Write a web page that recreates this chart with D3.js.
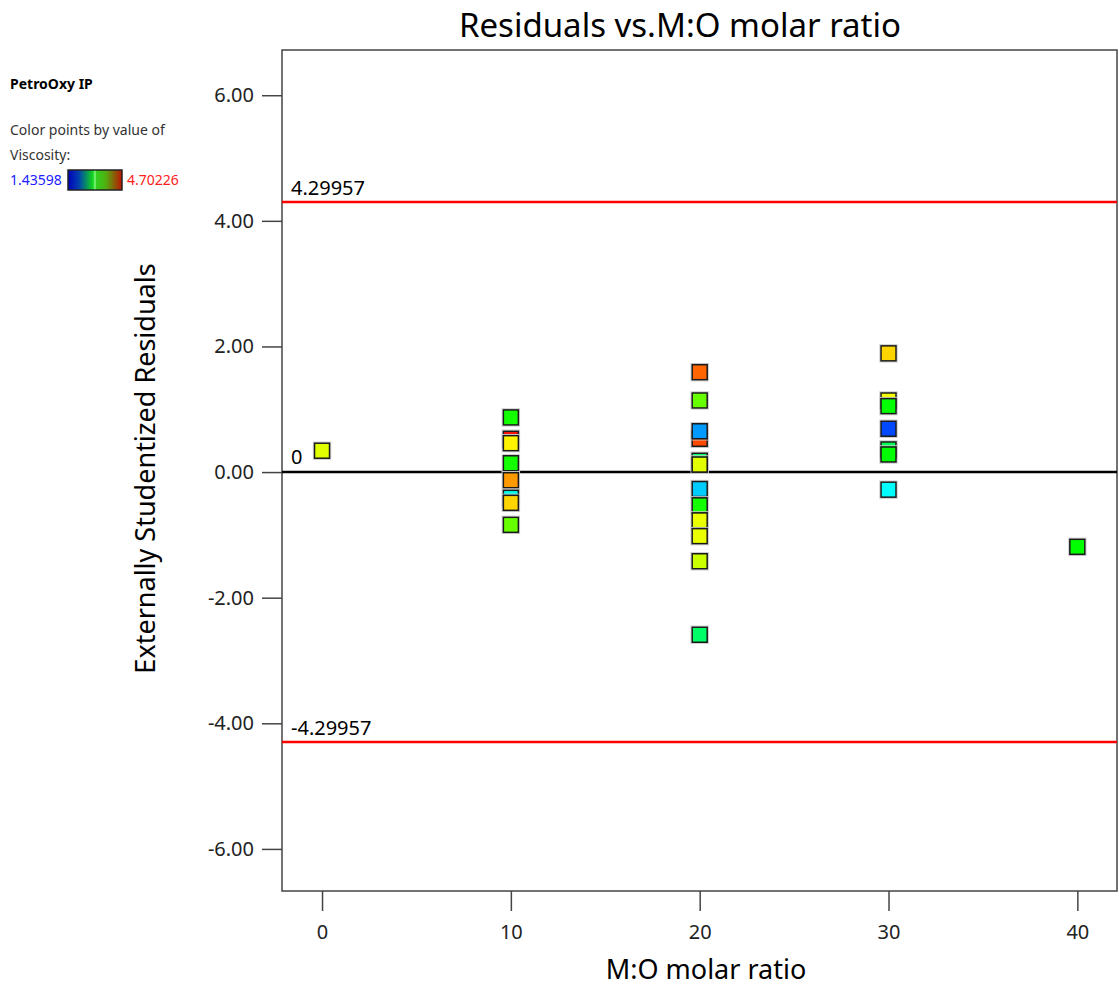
<!DOCTYPE html>
<html>
<head>
<meta charset="utf-8">
<script src="https://cdn.jsdelivr.net/npm/d3@7"></script>
<style>
  body { margin: 0; background: #fff; }
  svg { display: block; font-family: "Noto Sans", "Open Sans", sans-serif; }
</style>
</head>
<body>
<svg id="chart" width="1119" height="987"></svg>
<script>
//  data (drawing order = stacking order)
const ratio     = [0,    10,   10,   10,   10,   10,    10,    10,    10,    20,   20,   20,   20,   20,   20,   20,    20,    20,    20,    20,    20,    30,   30,   30,   30,   30,   30,   30,    40];
const residual  = [0.34, 0.87, 0.53, 0.46, 0.14, -0.13, -0.41, -0.49, -0.84, 1.59, 1.14, 0.53, 0.65, 0.18, 0.12, -0.27, -0.53, -0.77, -1.02, -1.42, -2.59, 1.89, 1.14, 1.05, 0.69, 0.36, 0.28, -0.28, -1.19];
const viscosity = [3.79, 3.13, 4.64, 3.92, 3.13, 4.21,  2.32,  4.02,  3.40,  4.38, 3.40, 4.47, 1.93, 2.74, 3.79, 2.09,  3.13,  3.82,  3.82,  3.72,  2.74,  4.02, 3.85, 3.07, 1.67, 2.81, 3.07, 2.25,  3.07];

const x_ticks = [0, 10, 20, 30, 40];
const y_ticks = [-6, -4, -2, 0, 2, 4, 6];
const limit = 4.29957;
const visc_min = 1.43598;
const visc_max = 4.70226;

//  plain hyphen instead of unicode minus
const fmt = f => v => d3.format(f)(v).replace("\u2212", "-");

//  draw residual plot
function draw_residuals() {
  const svg = d3.select("#chart");
  const plot = {left: 282, right: 1117, top: 50, bottom: 891};

  const x = d3.scaleLinear().domain([-2.12, 42.1]).range([plot.left, plot.right]);
  const y = d3.scaleLinear().domain([-6.67, 6.72]).range([plot.bottom, plot.top]);

  const step = (visc_max - visc_min) / 4;
  const color = d3.scaleLinear()
    .domain([visc_min, visc_min + step, visc_min + 2 * step, visc_min + 3 * step, visc_max])
    .range(["#0000ff", "#00ffff", "#00ff00", "#ffff00", "#ff0000"]);

  //  title
  svg.append("text")
    .attr("x", 680).attr("y", 37)
    .attr("text-anchor", "middle")
    .style("font-size", "33px")
    .text("Residuals vs.M:O molar ratio");

  //  frame
  svg.append("rect")
    .attr("x", plot.left).attr("y", plot.top)
    .attr("width", plot.right - plot.left).attr("height", plot.bottom - plot.top)
    .attr("fill", "none").attr("stroke", "#444").attr("stroke-width", 1.5);

  //  axes
  const yAxis = svg.append("g")
    .attr("transform", `translate(${plot.left},0)`)
    .call(d3.axisLeft(y).tickValues(y_ticks).tickSize(20).tickPadding(8).tickFormat(fmt(".2f")));
  yAxis.select(".domain").remove();

  const xAxis = svg.append("g")
    .attr("transform", `translate(0,${plot.bottom})`)
    .call(d3.axisBottom(x).tickValues(x_ticks).tickSize(20).tickPadding(14).tickFormat(d3.format("d")));
  xAxis.select(".domain").remove();

  svg.selectAll(".tick line").attr("stroke", "#444").attr("stroke-width", 1.5);
  svg.selectAll(".tick text").style("font-size", "20px").attr("fill", "#222")
    .style("font-family", "'Noto Sans', sans-serif");

  //  axis titles
  svg.append("text")
    .attr("transform", `translate(155,${(plot.top + plot.bottom) / 2 - 2}) rotate(-90)`)
    .attr("text-anchor", "middle")
    .style("font-size", "27px")
    .text("Externally Studentized Residuals");

  svg.append("text")
    .attr("x", 706).attr("y", 979)
    .attr("text-anchor", "middle")
    .style("font-size", "27px")
    .text("M:O molar ratio");

  //  limit lines
  [limit, -limit].forEach(v => {
    svg.append("line")
      .attr("x1", plot.left).attr("x2", plot.right)
      .attr("y1", y(v)).attr("y2", y(v))
      .attr("stroke", "#ff0000").attr("stroke-width", 2.5);
    svg.append("text")
      .attr("x", 291).attr("y", y(v) - 7)
      .style("font-size", "20px")
      .text(fmt(".5f")(v));
  });

  //  zero line
  svg.append("line")
    .attr("x1", plot.left).attr("x2", plot.right)
    .attr("y1", y(0)).attr("y2", y(0))
    .attr("stroke", "#000").attr("stroke-width", 2.5);
  svg.append("text")
    .attr("x", 291).attr("y", y(0) - 8)
    .style("font-size", "20px")
    .text("0");

  //  points
  const s = 15;
  const pts = svg.append("g");
  ratio.forEach((r, i) => {
    const g = pts.append("g").attr("transform", `translate(${x(r)},${y(residual[i])})`);
    g.append("rect")
      .attr("x", -s / 2 - 1.2).attr("y", -s / 2 - 1.2)
      .attr("width", s + 2.4).attr("height", s + 2.4)
      .attr("fill", "none").attr("stroke", "#ccc").attr("stroke-width", 1);
    g.append("rect")
      .attr("x", -s / 2).attr("y", -s / 2)
      .attr("width", s).attr("height", s)
      .attr("fill", color(viscosity[i]))
      .attr("stroke", "#1a1a1a").attr("stroke-width", 1.5);
  });

  //  legend
  svg.append("text").attr("x", 10).attr("y", 89)
    .style("font-size", "14px").style("font-weight", "bold").text("PetroOxy IP");
  svg.append("text").attr("x", 10).attr("y", 135)
    .style("font-size", "14px").attr("fill", "#333").text("Color points by value of");
  svg.append("text").attr("x", 10).attr("y", 160)
    .style("font-size", "14px").attr("fill", "#333").text("Viscosity:");
  svg.append("text").attr("x", 10).attr("y", 185)
    .style("font-size", "14px").attr("fill", "#2020ff").text(d3.format(".5f")(visc_min));
  svg.append("text").attr("x", 127).attr("y", 185)
    .style("font-size", "14px").attr("fill", "#ff2020").text(d3.format(".5f")(visc_max));

  const grad = svg.append("defs").append("linearGradient").attr("id", "visc_grad");
  [[0, "#0000b8"], [0.2, "#0040b0"], [0.45, "#10d020"], [0.48, "#30e030"], [0.5, "#a0ffa0"],
   [0.52, "#30d020"], [0.7, "#50b010"], [1, "#c01000"]].forEach(d => {
    grad.append("stop").attr("offset", d[0]).attr("stop-color", d[1]);
  });
  svg.append("rect")
    .attr("x", 68).attr("y", 170).attr("width", 54).attr("height", 20)
    .attr("fill", "url(#visc_grad)").attr("stroke", "#222").attr("stroke-width", 1.5);
}

draw_residuals();
</script>
</body>
</html>
